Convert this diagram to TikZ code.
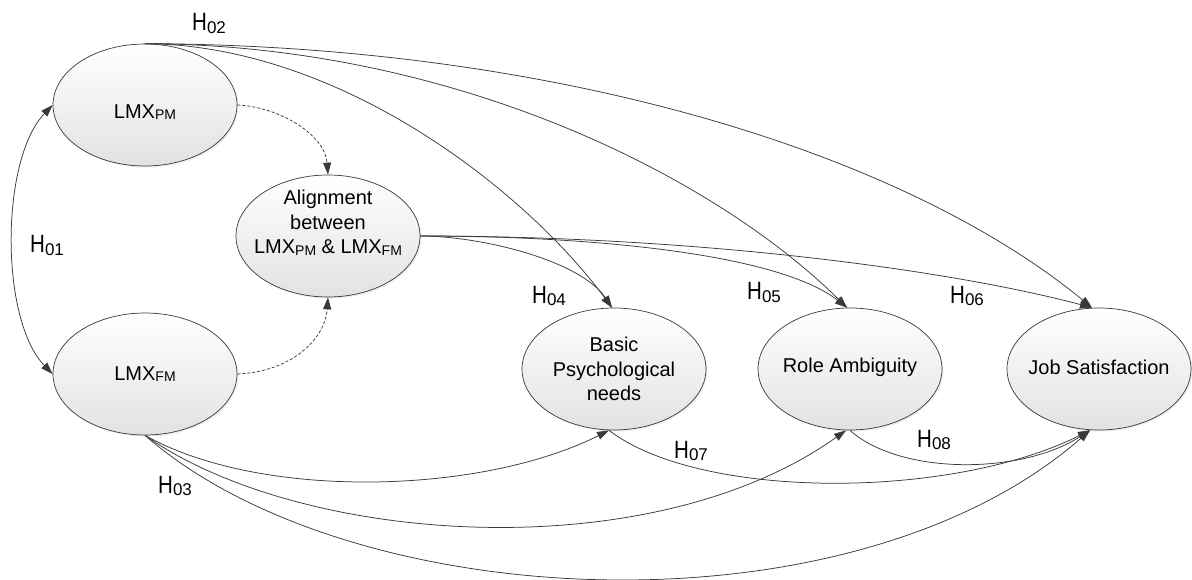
\documentclass[tikz,border=0pt]{standalone}
\usepackage{fontspec}
\setmainfont{Liberation Sans}
\newfontfamily\hfont[FakeStretch=0.82]{Liberation Sans}
\usetikzlibrary{shapes.geometric,arrows.meta,shadows}
\definecolor{edgegray}{HTML}{3A3A3A}
\definecolor{fillbot}{HTML}{E2E2E2}
% small lowered index inside construct names
\newcommand{\subtx}[1]{\raisebox{-1.5pt}{\fontsize{14}{14}\selectfont #1}}
% hypothesis label H with its number
\newcommand{\hyp}[1]{{\hfont\fontsize{25}{25}\selectfont H}\raisebox{-2.5pt}{\fontsize{17}{17}\selectfont #1}}
\begin{document}
\begin{tikzpicture}[x=1pt,y=-1pt,
  ell/.style={ellipse, draw=edgegray, line width=0.7pt,
    minimum width=184pt, minimum height=122pt, inner sep=0pt,
    top color=white, bottom color=fillbot,
    drop shadow={shadow xshift=1.5pt, shadow yshift=-1.5pt, opacity=0.25, fill=black!25}},
  txt/.style={align=center, font=\fontsize{20}{24.5}\selectfont, inner sep=0pt},
  hlab/.style={anchor=base west, inner sep=0pt},
  conn/.style={draw=edgegray, line width=0.75pt, -{Triangle[length=12pt,width=8pt]}},
  dconn/.style={conn, dash pattern=on 3pt off 2pt}
]
\fill[white] (0,0) rectangle (1192,580);
\useasboundingbox (0,0) rectangle (1192,580);

% constructs
\node[ell] (pm)  at (145,105) {};
\node[ell] (fm)  at (145,374) {};
\node[ell] (al)  at (328,236) {};
\node[ell] (bpn) at (614,369) {};
\node[ell] (ra)  at (850,369) {};
\node[ell] (js)  at (1099,369) {};

\node[txt] (pmt)  at (145,112) {LMX\subtx{PM}};
\node[txt] (fmt)  at (145,374) {LMX\subtx{FM}};
\node[txt] (alt)  at (328,223) {Alignment\\between\\LMX\subtx{PM} \& LMX\subtx{FM}};
\node[txt] (bpnt) at (614,369) {Basic\\Psychological\\needs};
\node[txt] (rat)  at (850,367) {Role Ambiguity};
\node[txt] (jst)  at (1099,367) {Job Satisfaction};

% correlation between the two exchange relationships
\draw[conn, {Triangle[length=12pt,width=8pt]}-{Triangle[length=12pt,width=8pt]}]
  (pm.west) .. controls (0,160) and (0,320) .. (fm.west);

% paths into the alignment construct
\draw[dconn] (pm.east) .. controls (280,107) and (325,135) .. (al.north);
\draw[dconn] (fm.east) .. controls (290,372) and (325,340) .. (al.south);

% paths from LMX_PM
\draw[conn] (pm.north) .. controls (550,45) and (900,150) .. ([xshift=-7pt]js.north);
\draw[conn] (pm.north) .. controls (460,45) and (718,180) .. ([xshift=-3pt]ra.north);
\draw[conn] (pm.north) .. controls (340,45) and (525,190) .. ([xshift=-2pt]bpn.north);

% paths from the alignment construct
\draw[conn] (al.east) .. controls (480,236) and (580,260) .. ([xshift=-2pt]bpn.north);
\draw[conn] (al.east) .. controls (600,236) and (780,255) .. ([xshift=-3pt]ra.north);
\draw[conn] (al.east) .. controls (700,236) and (950,270) .. ([xshift=-7pt]js.north);

% paths from LMX_FM
\draw[conn] (fm.south) .. controls (260,500) and (480,495) .. ([xshift=-5pt]bpn.south);
\draw[conn] (fm.south) .. controls (300,545) and (650,570) .. ([xshift=-4pt]ra.south);
\draw[conn] (fm.south) .. controls (350,615) and (850,640) .. ([xshift=-9pt]js.south);

% mediator paths into job satisfaction
\draw[conn] ([xshift=-5pt]bpn.south) .. controls (700,500) and (950,500) .. ([xshift=-9pt]js.south);
\draw[conn] (ra.south) .. controls (900,475) and (1020,475) .. ([xshift=-9pt]js.south);

% hypothesis labels
\node[hlab] (h01) at (30,253)  {\hyp{01}};
\node[hlab] (h02) at (192,31)  {\hyp{02}};
\node[hlab] (h03) at (158,493) {\hyp{03}};
\node[hlab] (h04) at (532,303) {\hyp{04}};
\node[hlab] (h05) at (747,300) {\hyp{05}};
\node[hlab] (h06) at (950,303) {\hyp{06}};
\node[hlab] (h07) at (674,458) {\hyp{07}};
\node[hlab] (h08) at (917,447) {\hyp{08}};
\end{tikzpicture}
\end{document}
